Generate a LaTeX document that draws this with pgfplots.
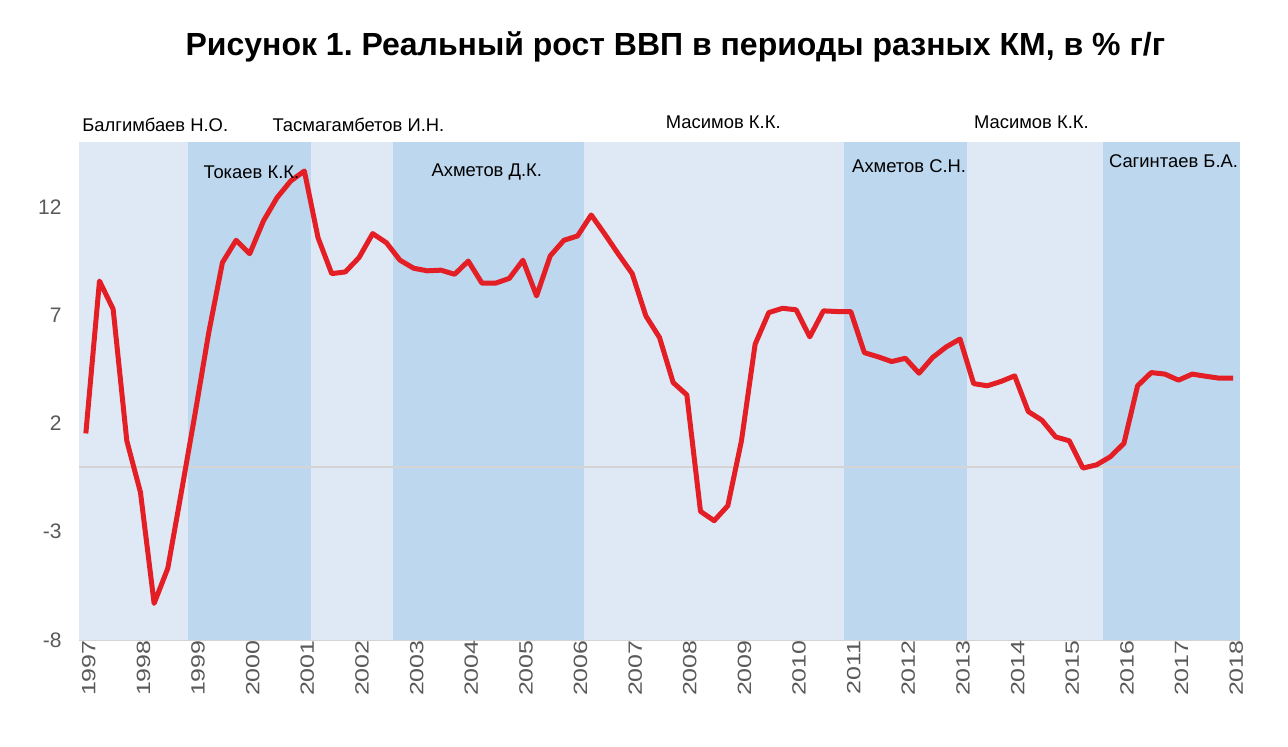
\documentclass[border=0pt]{standalone}
\usepackage{pgfplots}
\pgfplotsset{compat=1.18}
\usepackage{fontspec}
\setmainfont{Liberation Sans}
\newfontfamily\stretchfont[FakeStretch=1.3]{Liberation Sans}
\definecolor{bandlight}{HTML}{DEE9F5}
\definecolor{banddark}{HTML}{BDD7EE}
\definecolor{linered}{HTML}{E31E24}
\definecolor{ticktext}{HTML}{595959}
\definecolor{zerogray}{HTML}{D4D4D4}
\frenchspacing
\begin{document}
\begin{tikzpicture}
\useasboundingbox (-39.5pt,-53.5pt) rectangle (604.5pt,320pt);
\begin{axis}[
  scale only axis,
  width=580.5pt, height=249pt,
  xmin=1996.875, xmax=2018.125,
  ymin=-8, ymax=15,
  ytick={-8,-3,2,7,12},
  xtick={1997,1998,...,2018},
  xticklabels={1997,1998,1999,2000,2001,2002,2003,2004,2005,2006,2007,2008,2009,2010,2011,2012,2013,2014,2015,2016,2017,2018},
  xticklabel style={rotate=90, anchor=east, font=\stretchfont\fontsize{9.6}{10}\selectfont, text=ticktext, inner sep=0pt, yshift=-1.5pt},
  yticklabel style={font=\fontsize{10.5}{11}\selectfont, text=ticktext, anchor=east, inner sep=0pt, xshift=-8.5pt},
  /pgf/number format/assume math mode=true,
  axis x line*=bottom,
  axis y line*=left,
  x axis line style={draw=zerogray, line width=0.75pt, -},
  y axis line style={draw=none},
  major tick length=0pt,
  tick style={draw=none},
  clip=false,
]
% background bands (periods)
\addplot[fill=bandlight, draw=none] coordinates {(1996.875,-8) (1996.875,15) (1998.875,15) (1998.875,-8)} -- cycle;
\addplot[fill=banddark, draw=none] coordinates {(1998.875,-8) (1998.875,15) (2001.125,15) (2001.125,-8)} -- cycle;
\addplot[fill=bandlight, draw=none] coordinates {(2001.125,-8) (2001.125,15) (2002.625,15) (2002.625,-8)} -- cycle;
\addplot[fill=banddark, draw=none] coordinates {(2002.625,-8) (2002.625,15) (2006.125,15) (2006.125,-8)} -- cycle;
\addplot[fill=bandlight, draw=none] coordinates {(2006.125,-8) (2006.125,15) (2010.875,15) (2010.875,-8)} -- cycle;
\addplot[fill=banddark, draw=none] coordinates {(2010.875,-8) (2010.875,15) (2013.125,15) (2013.125,-8)} -- cycle;
\addplot[fill=bandlight, draw=none] coordinates {(2013.125,-8) (2013.125,15) (2015.625,15) (2015.625,-8)} -- cycle;
\addplot[fill=banddark, draw=none] coordinates {(2015.625,-8) (2015.625,15) (2018.125,15) (2018.125,-8)} -- cycle;
% zero line
\addplot[draw=zerogray, line width=0.75pt] coordinates {(1996.875,0) (2018.125,0)};
% real GDP growth, quarterly, % y/y
\addplot[draw=linered, line width=2.5pt, line join=round] coordinates {
(1997.00,1.54) (1997.25,8.58) (1997.50,7.28) (1997.75,1.2)
(1998.00,-1.18) (1998.25,-6.31) (1998.50,-4.69) (1998.75,-1.15)
(1999.00,2.46) (1999.25,6.2) (1999.50,9.43) (1999.75,10.46)
(2000.00,9.84) (2000.25,11.35) (2000.50,12.43) (2000.75,13.2)
(2001.00,13.66) (2001.25,10.58) (2001.50,8.92) (2001.75,9.0)
(2002.00,9.66) (2002.25,10.77) (2002.50,10.35) (2002.75,9.54)
(2003.00,9.17) (2003.25,9.05) (2003.50,9.08) (2003.75,8.89)
(2004.00,9.5) (2004.25,8.48) (2004.50,8.48) (2004.75,8.7)
(2005.00,9.54) (2005.25,7.89) (2005.50,9.74) (2005.75,10.46)
(2006.00,10.66) (2006.25,11.63) (2006.50,10.74) (2006.75,9.81)
(2007.00,8.92) (2007.25,6.97) (2007.50,5.97) (2007.75,3.89)
(2008.00,3.32) (2008.25,-2.06) (2008.50,-2.49) (2008.75,-1.8)
(2009.00,1.2) (2009.25,5.66) (2009.50,7.12) (2009.75,7.32)
(2010.00,7.25) (2010.25,6.0) (2010.50,7.2) (2010.75,7.17)
(2011.00,7.17) (2011.25,5.27) (2011.50,5.08) (2011.75,4.86)
(2012.00,5.01) (2012.25,4.32) (2012.50,5.05) (2012.75,5.54)
(2013.00,5.9) (2013.25,3.84) (2013.50,3.74) (2013.75,3.94)
(2014.00,4.2) (2014.25,2.55) (2014.50,2.15) (2014.75,1.38)
(2015.00,1.2) (2015.25,-0.06) (2015.50,0.09) (2015.75,0.46)
(2016.00,1.08) (2016.25,3.74) (2016.50,4.35) (2016.75,4.28)
(2017.00,4.0) (2017.25,4.28) (2017.50,4.18) (2017.75,4.09)
(2018.00,4.09)
};
% period labels
\begin{scope}[every node/.style={font=\fontsize{9.2}{10}\selectfont, anchor=west, inner sep=0pt}]
\node at (axis cs:1996.93,15.78) {Балгимбаев Н.О.};
\node at (axis cs:2000.41,15.78) {Тасмагамбетов И.Н.};
\node at (axis cs:1999.15,13.61) {Токаев К.К.};
\node at (axis cs:2003.32,13.61) {Ахметов Д.К.};
\node at (axis cs:2007.61,15.92) {Масимов К.К.};
\node at (axis cs:2011.02,13.90) {Ахметов С.Н.};
\node at (axis cs:2013.25,15.92) {Масимов К.К.};
\node at (axis cs:2015.72,14.12) {Сагинтаев Б.А.};
\end{scope}
% title
\node[font=\bfseries\fontsize{16}{18}\selectfont, anchor=center, inner sep=0pt] at (axis cs:2007.79,19.4) {Рисунок 1. Реальный рост ВВП в периоды разных КМ, в \% г/г};
\end{axis}
\end{tikzpicture}
\end{document}
